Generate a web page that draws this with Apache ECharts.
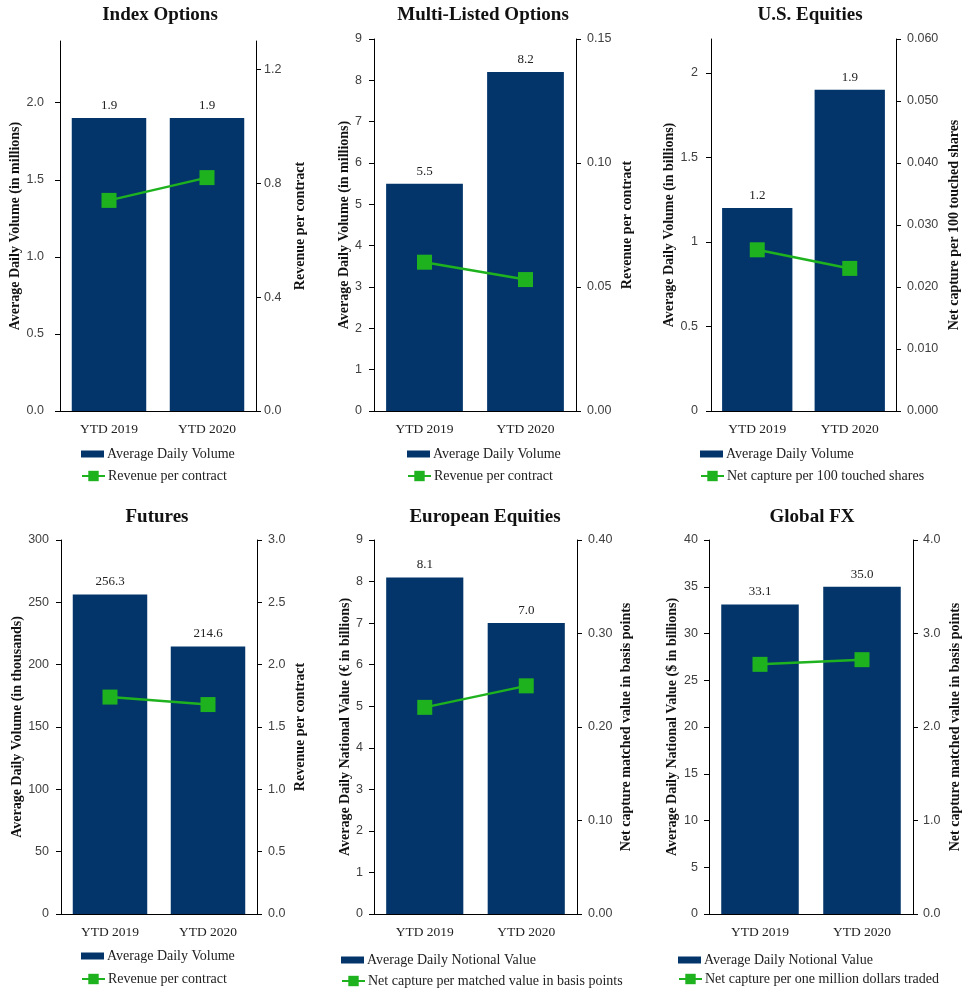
<!DOCTYPE html>
<html>
<head>
<meta charset="utf-8">
<script src="https://cdn.jsdelivr.net/npm/echarts@6/dist/echarts.min.js"></script>
<style>
html,body{margin:0;padding:0;background:#fff;}
#chart{width:971px;height:1005px;}
</style>
</head>
<body>
<div id="chart"></div>
<script>
// ---------- DATA ----------
const categories = ['YTD 2019', 'YTD 2020'];

const panelTitles = ['Index Options', 'Multi-Listed Options', 'U.S. Equities', 'Futures', 'European Equities', 'Global FX'];

const leftAxisNames = [
  'Average Daily Volume (in millions)',
  'Average Daily Volume (in millions)',
  'Average Daily Volume (in billions)',
  'Average Daily Volume (in thousands)',
  'Average Daily National Value (€ in billions)',
  'Average Daily National Value ($ in billions)'
];
const rightAxisNames = [
  'Revenue per contract',
  'Revenue per contract',
  'Net capture per 100 touched shares',
  'Revenue per contract',
  'Net capture matched value in basis points',
  'Net capture matched value in basis points'
];
const barSeriesNames = [
  'Average Daily Volume', 'Average Daily Volume', 'Average Daily Volume',
  'Average Daily Volume', 'Average Daily Notional Value', 'Average Daily Notional Value'
];
const lineSeriesNames = [
  'Revenue per contract', 'Revenue per contract', 'Net capture per 100 touched shares',
  'Revenue per contract', 'Net capture per matched value in basis points', 'Net capture per one million dollars traded'
];

// bar values (left axis)
const indexOptionsADV = [1.9, 1.9];
const multiListedADV = [5.5, 8.2];
const usEquitiesADV = [1.2, 1.9];
const futuresADV = [256.3, 214.6];
const europeanADNV = [8.1, 7.0];
const globalFxADNV = [33.1, 35.0];

// line values (right axis)
const indexOptionsRPC = [0.74, 0.82];
const multiListedRPC = [0.060, 0.053];
const usEquitiesCapture = [0.026, 0.023];
const futuresRPC = [1.74, 1.68];
const europeanCapture = [0.221, 0.244];
const globalFxCapture = [2.67, 2.72];

// tick labels
const indexLeftTicks = [0, 0.5, 1.0, 1.5, 2.0];
const indexRightTicks = [0, 0.4, 0.8, 1.2];
const multiLeftTicks = [0, 1, 2, 3, 4, 5, 6, 7, 8, 9];
const multiRightTicks = [0, 0.05, 0.10, 0.15];
const usLeftTicks = [0, 0.5, 1, 1.5, 2];
const usRightTicks = [0, 0.010, 0.020, 0.030, 0.040, 0.050, 0.060];
const futuresLeftTicks = [0, 50, 100, 150, 200, 250, 300];
const futuresRightTicks = [0, 0.5, 1.0, 1.5, 2.0, 2.5, 3.0];
const europeanLeftTicks = [0, 1, 2, 3, 4, 5, 6, 7, 8, 9];
const europeanRightTicks = [0, 0.10, 0.20, 0.30, 0.40];
const fxLeftTicks = [0, 5, 10, 15, 20, 25, 30, 35, 40];
const fxRightTicks = [0, 1.0, 2.0, 3.0, 4.0];

// axis extents
const leftMax = [2.4, 9, 2.2, 300, 9, 40];
const rightMax = [1.3, 0.15, 0.06, 3.0, 0.40, 4.0];

const barData = [indexOptionsADV, multiListedADV, usEquitiesADV, futuresADV, europeanADNV, globalFxADNV];
const lineData = [indexOptionsRPC, multiListedRPC, usEquitiesCapture, futuresRPC, europeanCapture, globalFxCapture];
const leftTicks = [indexLeftTicks, multiLeftTicks, usLeftTicks, futuresLeftTicks, europeanLeftTicks, fxLeftTicks];
const rightTicks = [indexRightTicks, multiRightTicks, usRightTicks, futuresRightTicks, europeanRightTicks, fxRightTicks];
const leftDecimals = [1, 0, -1, 0, 0, 0];
const rightDecimals = [1, 2, 3, 1, 2, 1];

// ---------- LAYOUT ----------
const grids = [
  {left: 60, top: 41, width: 196, height: 370},
  {left: 374, top: 39, width: 202, height: 372},
  {left: 711, top: 39, width: 185, height: 372},
  {left: 61, top: 540, width: 196, height: 374},
  {left: 374, top: 540, width: 203, height: 374},
  {left: 709, top: 540, width: 204, height: 374}
];
const titlePos = [[160, 6], [483, 6], [810, 6], [157, 508], [485, 508], [812, 508]];
const leftNameGap = [31, 20, 35, 35, 20, 30];
const rightNameGap = [37, 44, 51, 36, 42, 35];
const leftLabelMargin = [16, 12, 13, 12, 11, 11];
const rightLabelMargin = [8, 11, 11, 11, 11, 10];
const legendPos = [
  [81, 455, 477], [407, 455, 477], [700, 455, 477],
  [81, 957, 980], [341, 961, 982], [678, 961, 980]
];

const NAVY = '#03356a';
const GREEN = '#1fb21f';
const SERIF = '"Liberation Serif", "Times New Roman", serif';
const SANS = '"Liberation Sans", Arial, sans-serif';
const TXT = '#222';

function fmt(v, d) {
  if (d < 0) return String(Math.round(v * 1000) / 1000);
  return v.toFixed(d);
}

const option = {
  animation: false,
  backgroundColor: '#fff',
  textStyle: {fontFamily: SERIF},
  title: [], grid: [], xAxis: [], yAxis: [], series: [], legend: []
};

for (let i = 0; i < 6; i++) {
  option.title.push({
    text: panelTitles[i], left: titlePos[i][0], top: titlePos[i][1], textAlign: 'center', padding: 0,
    textStyle: {fontFamily: SERIF, fontSize: 19, fontWeight: 'bold', color: '#111'}
  });
  option.grid.push(Object.assign({containLabel: false}, grids[i]));
  option.xAxis.push({
    type: 'category', gridIndex: i, data: categories,
    axisLine: {show: true, lineStyle: {color: '#000', width: 1}},
    axisTick: {show: false},
    axisLabel: {margin: 11, fontSize: 13.5, color: TXT, fontFamily: SERIF},
    splitLine: {show: false}
  });
  const lt = leftTicks[i], rt = rightTicks[i], ld = leftDecimals[i], rd = rightDecimals[i];
  option.yAxis.push({
    type: 'value', gridIndex: i, position: 'left', min: 0, max: leftMax[i],
    name: leftAxisNames[i], nameLocation: 'middle', nameGap: leftNameGap[i],
    nameTextStyle: {fontFamily: SERIF, fontSize: 14, fontWeight: 'bold', color: '#111'},
    axisLine: {show: true, lineStyle: {color: '#000', width: 1}},
    axisTick: {show: true, inside: false, length: 5, lineStyle: {color: '#000'}, customValues: lt},
    axisLabel: {margin: leftLabelMargin[i], fontSize: 12.5, color: '#404040', fontFamily: SANS, customValues: lt,
      formatter: v => fmt(v, ld)},
    splitLine: {show: false}
  });
  option.yAxis.push({
    type: 'value', gridIndex: i, position: 'right', min: 0, max: rightMax[i],
    name: rightAxisNames[i], nameLocation: 'middle', nameGap: rightNameGap[i], nameRotate: 90,
    nameTextStyle: {fontFamily: SERIF, fontSize: 14, fontWeight: 'bold', color: '#111'},
    axisLine: {show: true, lineStyle: {color: '#000', width: 1}},
    axisTick: {show: true, inside: false, length: 5, lineStyle: {color: '#000'}, customValues: rt},
    axisLabel: {margin: rightLabelMargin[i], fontSize: 12.5, color: '#404040', fontFamily: SANS, customValues: rt,
      formatter: v => fmt(v, rd)},
    splitLine: {show: false}
  });
  option.series.push({
    type: 'bar', name: barSeriesNames[i], xAxisIndex: i, yAxisIndex: 2 * i,
    data: barData[i], barCategoryGap: '24%',
    itemStyle: {color: NAVY},
    label: {show: true, position: 'top', distance: 6, fontSize: 13, color: TXT, fontFamily: SERIF,
      formatter: p => p.value.toFixed(1)}
  });
  option.series.push({
    type: 'line', name: lineSeriesNames[i], xAxisIndex: i, yAxisIndex: 2 * i + 1,
    data: lineData[i], symbol: 'rect', symbolSize: 15, z: 5,
    lineStyle: {color: GREEN, width: 2.5},
    itemStyle: {color: GREEN}
  });
  option.legend.push({
    data: [{name: barSeriesNames[i], icon: 'rect'}],
    left: legendPos[i][0], top: legendPos[i][1] - 8, padding: 0,
    itemWidth: 23, itemHeight: 7, selectedMode: false,
    textStyle: {fontFamily: SERIF, fontSize: 14, color: TXT, padding: [0, 0, 0, -2]}
  });
  option.legend.push({
    data: [{name: lineSeriesNames[i]}],
    left: legendPos[i][0], top: legendPos[i][2] - 8, padding: 0,
    itemWidth: 23, itemHeight: 13, selectedMode: false,
    textStyle: {fontFamily: SERIF, fontSize: 14, color: TXT, padding: [0, 0, 0, -2]}
  });
}

const chart = echarts.init(document.getElementById('chart'), null, {renderer: 'canvas'});
chart.setOption(option);
</script>
</body>
</html>
